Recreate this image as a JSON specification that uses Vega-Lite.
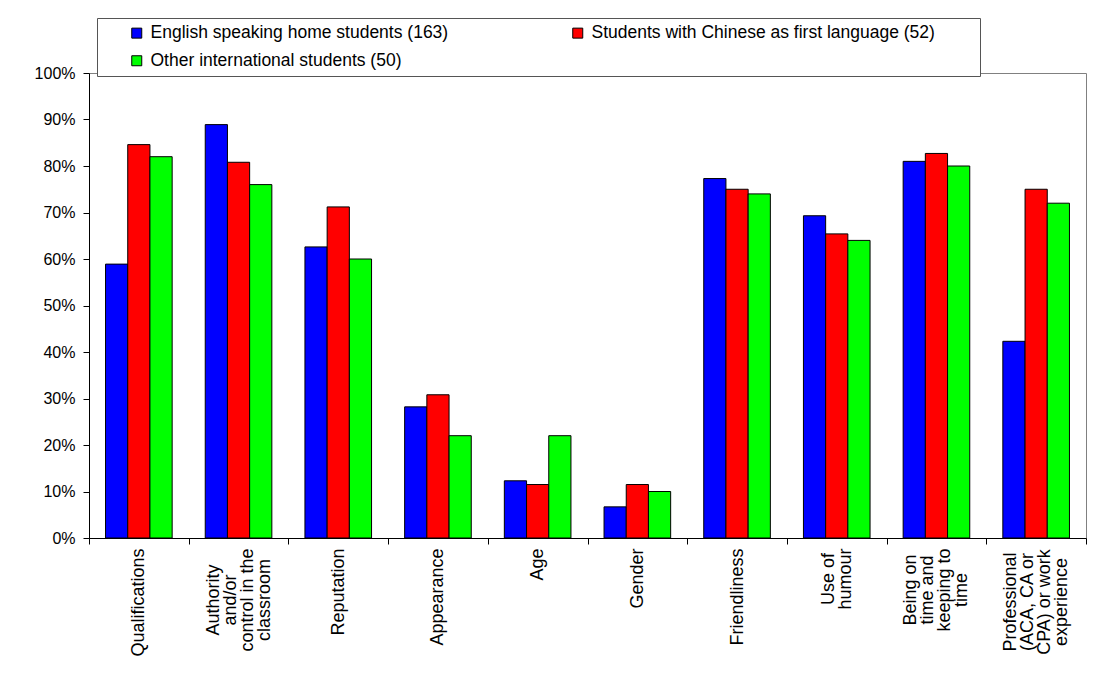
{
  "$schema": "https://vega.github.io/schema/vega-lite/v6.json",
  "autosize": "none",
  "width": 997,
  "height": 465,
  "padding": {"left": 89, "top": 73, "right": 8, "bottom": 139},
  "background": "white",
  "config": {
    "font": "Liberation Sans",
    "view": {"stroke": "#808080", "strokeWidth": 1}
  },
  "data": {
    "values": [
      {"criterion": "Qualifications", "group": "English speaking home students (163)", "pct": 0.589},
      {"criterion": "Qualifications", "group": "Students with Chinese as first language (52)", "pct": 0.846},
      {"criterion": "Qualifications", "group": "Other international students (50)", "pct": 0.82},
      {"criterion": "Authority|and/or|control in the|classroom", "group": "English speaking home students (163)", "pct": 0.889},
      {"criterion": "Authority|and/or|control in the|classroom", "group": "Students with Chinese as first language (52)", "pct": 0.808},
      {"criterion": "Authority|and/or|control in the|classroom", "group": "Other international students (50)", "pct": 0.76},
      {"criterion": "Reputation", "group": "English speaking home students (163)", "pct": 0.626},
      {"criterion": "Reputation", "group": "Students with Chinese as first language (52)", "pct": 0.712},
      {"criterion": "Reputation", "group": "Other international students (50)", "pct": 0.6},
      {"criterion": "Appearance", "group": "English speaking home students (163)", "pct": 0.282},
      {"criterion": "Appearance", "group": "Students with Chinese as first language (52)", "pct": 0.308},
      {"criterion": "Appearance", "group": "Other international students (50)", "pct": 0.22},
      {"criterion": "Age", "group": "English speaking home students (163)", "pct": 0.123},
      {"criterion": "Age", "group": "Students with Chinese as first language (52)", "pct": 0.115},
      {"criterion": "Age", "group": "Other international students (50)", "pct": 0.22},
      {"criterion": "Gender", "group": "English speaking home students (163)", "pct": 0.067},
      {"criterion": "Gender", "group": "Students with Chinese as first language (52)", "pct": 0.115},
      {"criterion": "Gender", "group": "Other international students (50)", "pct": 0.1},
      {"criterion": "Friendliness", "group": "English speaking home students (163)", "pct": 0.773},
      {"criterion": "Friendliness", "group": "Students with Chinese as first language (52)", "pct": 0.75},
      {"criterion": "Friendliness", "group": "Other international students (50)", "pct": 0.74},
      {"criterion": "Use of|humour", "group": "English speaking home students (163)", "pct": 0.693},
      {"criterion": "Use of|humour", "group": "Students with Chinese as first language (52)", "pct": 0.654},
      {"criterion": "Use of|humour", "group": "Other international students (50)", "pct": 0.64},
      {"criterion": "Being on|time and|keeping to|time", "group": "English speaking home students (163)", "pct": 0.81},
      {"criterion": "Being on|time and|keeping to|time", "group": "Students with Chinese as first language (52)", "pct": 0.827},
      {"criterion": "Being on|time and|keeping to|time", "group": "Other international students (50)", "pct": 0.8},
      {"criterion": "Professional|(ACA, CA or|CPA) or work|experience", "group": "English speaking home students (163)", "pct": 0.423},
      {"criterion": "Professional|(ACA, CA or|CPA) or work|experience", "group": "Students with Chinese as first language (52)", "pct": 0.75},
      {"criterion": "Professional|(ACA, CA or|CPA) or work|experience", "group": "Other international students (50)", "pct": 0.72}
    ]
  },
  "mark": {"type": "bar", "stroke": "black", "strokeWidth": 1},
  "encoding": {
    "x": {
      "field": "criterion",
      "type": "nominal",
      "sort": null,
      "scale": {"paddingInner": 0, "paddingOuter": 0},
      "axis": {
        "title": null,
        "domainColor": "black",
        "tickColor": "black",
        "tickSize": 6,
        "tickBand": "extent",
        "labelAngle": -90,
        "labelAlign": "center",
        "labelBaseline": "middle",
        "labelPadding": {
          "condition": [
            {"test": "datum.value == 'Qualifications'", "value": 58},
            {"test": "datum.value == 'Authority|and/or|control in the|classroom'", "value": 55.5},
            {"test": "datum.value == 'Reputation'", "value": 47.5},
            {"test": "datum.value == 'Appearance'", "value": 52.5},
            {"test": "datum.value == 'Age'", "value": 20},
            {"test": "datum.value == 'Gender'", "value": 34},
            {"test": "datum.value == 'Friendliness'", "value": 52.5},
            {"test": "datum.value == 'Use of|humour'", "value": 34.5},
            {"test": "datum.value == 'Being on|time and|keeping to|time'", "value": 45.5},
            {"test": "datum.value == 'Professional|(ACA, CA or|CPA) or work|experience'", "value": 57.5}
          ],
          "value": 40
        },
        "labelFontSize": 18,
        "labelColor": "black",
        "labelLineHeight": 17,
        "labelLimit": 200,
        "labelOffset": {
          "condition": [
            {"test": "length(split(datum.value, '|')) == 4", "value": -25.5},
            {"test": "length(split(datum.value, '|')) == 2", "value": -8.5}
          ],
          "value": 0
        },
        "labelExpr": "split(datum.label, '|')"
      }
    },
    "xOffset": {
      "field": "group",
      "type": "nominal",
      "sort": null,
      "scale": {"paddingInner": 0, "paddingOuter": 0.745}
    },
    "y": {
      "field": "pct",
      "type": "quantitative",
      "scale": {"domain": [0, 1], "nice": false},
      "axis": {
        "title": null,
        "values": [0, 0.1, 0.2, 0.3, 0.4, 0.5, 0.6, 0.7, 0.8, 0.9, 1],
        "format": ".0%",
        "grid": false,
        "domainColor": "black",
        "tickColor": "black",
        "tickSize": 6,
        "labelPadding": 8,
        "labelFontSize": 16,
        "labelColor": "black"
      }
    },
    "color": {
      "field": "group",
      "type": "nominal",
      "sort": null,
      "scale": {
        "domain": ["English speaking home students (163)", "Students with Chinese as first language (52)", "Other international students (50)"],
        "range": ["#0000FF", "#FF0000", "#00FF00"]
      },
      "legend": {
        "orient": "none",
        "legendX": 8,
        "legendY": -55,
        "columns": 2,
        "direction": "horizontal",
        "title": " ",
        "titleOrient": "left",
        "titleFontSize": 8,
        "titlePadding": 25,
        "fillColor": "white",
        "strokeColor": "#555555",
        "padding": 6,
        "columnPadding": 120,
        "rowPadding": 9,
        "symbolType": "square",
        "symbolSize": 100,
        "symbolStrokeColor": "black",
        "symbolStrokeWidth": 1,
        "symbolOpacity": 1,
        "labelFontSize": 17.5,
        "labelColor": "black",
        "labelOffset": 5,
        "labelLimit": 450,
        "labelExpr": "datum.label == 'Students with Chinese as first language (52)' ? datum.label + '\u00a0\u00a0\u00a0\u00a0\u00a0\u00a0\u00a0\u00a0\u200b' : datum.label"
      }
    }
  }
}
